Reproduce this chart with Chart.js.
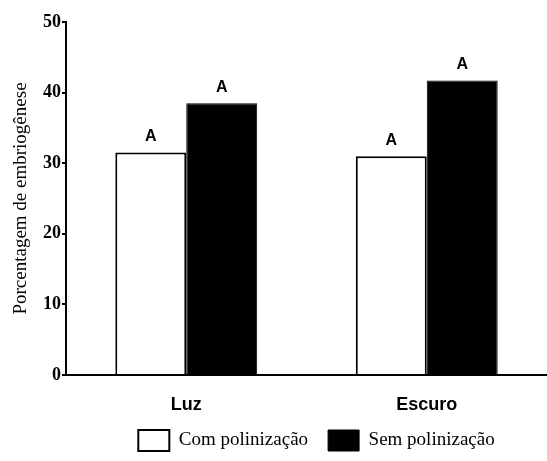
<!DOCTYPE html>
<html>
<head>
<meta charset="utf-8">
<script src="https://cdn.jsdelivr.net/npm/chart.js@4"></script>
<style>
  html, body { margin: 0; padding: 0; background: #fff; }
  #wrap { width: 547px; height: 461px; }
</style>
</head>
<body>
<div id="wrap"><canvas id="grafico"></canvas></div>
<script>
// dados
const categorias = ['Luz', 'Escuro'];
const comPolinizacao = [31.5, 31.0];
const semPolinizacao = [38.5, 41.7];
const letrasCom = ['A', 'A'];
const letrasSem = ['A', 'A'];
const yMax = 50;
const yPasso = 10;

// desenha as letras acima das barras
const letrasPlugin = {
	id: 'letras',
	afterDatasetsDraw(chart) {
		const ctx = chart.ctx;
		ctx.save();
		ctx.fillStyle = '#000';
		ctx.font = 'bold 16px "Liberation Sans", Arial, sans-serif';
		ctx.textAlign = 'center';
		ctx.textBaseline = 'bottom';
		chart.data.datasets.forEach((ds, i) => {
			const meta = chart.getDatasetMeta(i);
			meta.data.forEach((bar, j) => {
				ctx.fillText(ds.letras[j], bar.x, bar.y - 8);
			});
		});
		ctx.restore();
	}
};

// desloca a legenda para a direita
const legendaPlugin = {
	id: 'legendaShift',
	afterLayout(chart) {
		const lg = chart.legend;
		if (!lg) return;
		const shift = 43;
		lg.left += shift;
		lg.right += shift;
	}
};

const ctx = document.getElementById('grafico').getContext('2d');
const grafico = new Chart(ctx, {
	type: 'bar',
	data: {
		labels: categorias,
		datasets: [{
			label: 'Com polinização',
			data: comPolinizacao,
			letras: letrasCom,
			backgroundColor: '#fff',
			borderColor: '#000',
			borderWidth: 2
		}, {
			label: 'Sem polinização',
			data: semPolinizacao,
			letras: letrasSem,
			backgroundColor: '#000',
			borderColor: '#000',
			borderWidth: 1
		}]
	},
	options: {
		responsive: true,
		maintainAspectRatio: false,
		animation: false,
		categoryPercentage: 0.59,
		barPercentage: 1,
		layout: { padding: { top: 22, left: 0, right: 0, bottom: 0 } },
		plugins: {
			tooltip: { enabled: false },
			legend: {
				position: 'bottom',
				labels: {
					color: '#000',
					boxWidth: 31,
					boxHeight: 21,
					padding: 20,
					font: { family: '"Liberation Serif", "Times New Roman", serif', size: 19 }
				}
			}
		},
		scales: {
			x: {
				grid: { display: false, drawTicks: false },
				border: { display: true, color: '#000', width: 2 },
				ticks: {
					color: '#000',
					padding: 19,
					font: { family: '"Liberation Sans", Arial, sans-serif', size: 18, weight: 'bold' }
				},
				afterFit(scale) { scale.height = 35; }
			},
			y: {
				min: 0,
				max: yMax,
				grid: { display: true, drawOnChartArea: false, drawTicks: true, tickLength: 4, color: '#000', lineWidth: 2 },
				border: { display: true, color: '#000', width: 2 },
				ticks: {
					stepSize: yPasso,
					color: '#000',
					padding: 1,
					font: { family: '"Liberation Serif", "Times New Roman", serif', size: 18, weight: 'bold' }
				},
				title: {
					display: true,
					text: 'Porcentagem de embriogênese',
					color: '#000',
					padding: { top: 10, bottom: 0 },
					font: { family: '"Liberation Serif", "Times New Roman", serif', size: 19 }
				},
				afterFit(scale) { scale.width = 66; }
			}
		}
	},
	plugins: [letrasPlugin, legendaPlugin]
});
</script>
</body>
</html>
